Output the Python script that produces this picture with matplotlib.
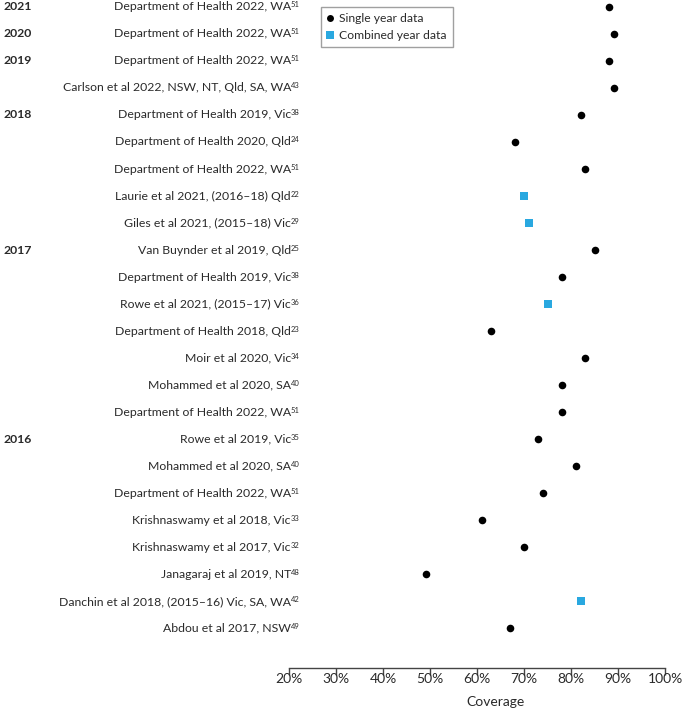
import matplotlib
matplotlib.use('Agg')
import matplotlib.pyplot as plt
from matplotlib.lines import Line2D
from matplotlib.transforms import blended_transform_factory
from matplotlib.ticker import FuncFormatter

# 研究标签（从上到下），上标为参考文献编号
studies = [
    'Department of Health 2022, WA', 'Department of Health 2022, WA',
    'Department of Health 2022, WA', 'Carlson et al 2022, NSW, NT, Qld, SA, WA',
    'Department of Health 2019, Vic', 'Department of Health 2020, Qld',
    'Department of Health 2022, WA', 'Laurie et al 2021, (2016–18) Qld',
    'Giles et al 2021, (2015–18) Vic', 'Van Buynder et al 2019, Qld',
    'Department of Health 2019, Vic', 'Rowe et al 2021, (2015–17) Vic',
    'Department of Health 2018, Qld', 'Moir et al 2020, Vic',
    'Mohammed et al 2020, SA', 'Department of Health 2022, WA',
    'Rowe et al 2019, Vic', 'Mohammed et al 2020, SA',
    'Department of Health 2022, WA', 'Krishnaswamy et al 2018, Vic',
    'Krishnaswamy et al 2017, Vic', 'Janagaraj et al 2019, NT',
    'Danchin et al 2018, (2015–16) Vic, SA, WA', 'Abdou et al 2017, NSW',
]
refs = ['51', '51', '51', '43', '38', '24', '51', '22', '29', '25', '38', '36',
        '23', '34', '40', '51', '35', '40', '51', '33', '32', '48', '42', '49']
coverage = [88, 89, 88, 89, 82, 68, 83, 70, 71, 85, 78, 75,
            63, 83, 78, 78, 73, 81, 74, 61, 70, 49, 82, 67]
combined = [False, False, False, False, False, False, False, True, True, False, False, True,
            False, False, False, False, False, False, False, False, False, False, True, False]
years = ['2021', '2020', '2019', '2018', '2017', '2016']
year_rows = [0, 1, 2, 4, 9, 16]
xticks = [20, 30, 40, 50, 60, 70, 80, 90, 100]

BLUE = '#29A8E0'
TXT = '#2a2a2a'

plt.rcParams['font.family'] = ['Lato', 'DejaVu Sans']
plt.rcParams['font.size'] = 8.8

fig = plt.figure(figsize=(6.85, 7.08), dpi=100)
ax = fig.add_axes([289.3 / 685, 39.7 / 708, 376 / 685, 668.3 / 708])

rows = list(range(len(studies)))
single_x = [c for c, cb in zip(coverage, combined) if not cb]
single_y = [r for r, cb in zip(rows, combined) if not cb]
comb_x = [c for c, cb in zip(coverage, combined) if cb]
comb_y = [r for r, cb in zip(rows, combined) if cb]

ax.scatter(single_x, single_y, s=30, marker='o', color='black', zorder=3, linewidths=0)
ax.scatter(comb_x, comb_y, s=27, marker='s', color=BLUE, zorder=3, linewidths=0)

ax.set_xlim(20, 100)
ax.set_ylim(23 + 40 / 27.03, -6.9 / 27.03)
ax.set_xticks(xticks)
ax.xaxis.set_major_formatter(FuncFormatter(lambda v, p: f'{v:.0f}%'))
ax.set_yticks([])
for s in ['top', 'right', 'left']:
    ax.spines[s].set_visible(False)
ax.spines['bottom'].set_color('#444444')
ax.spines['bottom'].set_linewidth(1)
ax.tick_params(axis='x', direction='out', length=5, width=1, color='#444444',
               pad=-1.5, labelsize=10, labelcolor=TXT)
ax.set_xlabel('Coverage', fontsize=10, color=TXT)
ax.xaxis.label.set_va('center')
ax.xaxis.set_label_coords(0.548, -0.0505)

# 研究名称，右对齐，上标单独画
lab_tr = blended_transform_factory(ax.transAxes, ax.transData)
for r, (name, ref) in enumerate(zip(studies, refs)):
    t = ax.text(0.0045, r, name, transform=lab_tr, ha='right', va='center',
                fontsize=8.8, color=TXT, clip_on=False)
    ax.annotate(ref, xy=(1, 1), xycoords=t, xytext=(-0.2, 0), textcoords='offset points',
                ha='left', va='top', fontsize=5.5, color=TXT, annotation_clip=False)

# 年份
yr_tr = blended_transform_factory(fig.transFigure, ax.transData)
for yr, r in zip(years, year_rows):
    ax.text(3 / 685, r, yr, transform=yr_tr, ha='left', va='center',
            fontsize=8.8, fontweight='bold', color=TXT, clip_on=False)

handles = [
    Line2D([], [], marker='o', linestyle='none', color='black', markersize=5,
           markeredgewidth=0, label='Single year data'),
    Line2D([], [], marker='s', linestyle='none', color=BLUE, markersize=5.5,
           markeredgewidth=0, label='Combined year data'),
]
leg = fig.legend(handles=handles, loc='upper left', bbox_to_anchor=(320.7 / 685, 1 - 7 / 708),
                 frameon=True, fancybox=False, edgecolor='#888888', fontsize=8.7,
                 handlelength=0.6, handletextpad=0.45, labelspacing=0.5,
                 borderpad=0.5, borderaxespad=0)
leg.get_frame().set_linewidth(1)
for txt in leg.get_texts():
    txt.set_color(TXT)

fig.savefig('out.png', dpi=100)
